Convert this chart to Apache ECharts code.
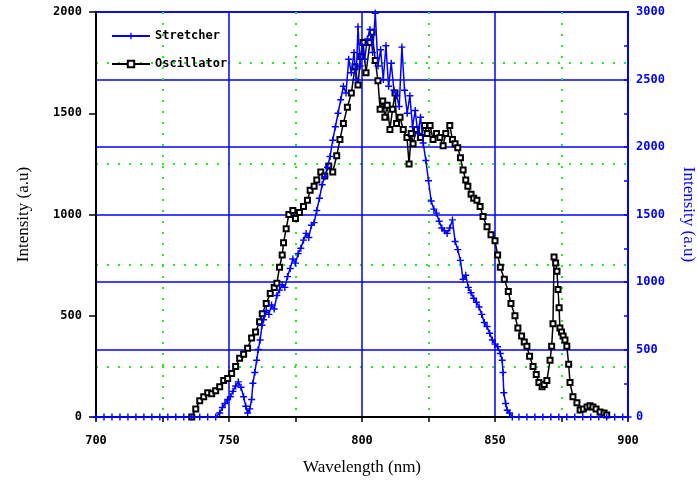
<!DOCTYPE html>
<html lang="en">
<head>
    <meta charset="UTF-8">
    <title>Stretcher / Oscillator</title>
</head>
<style>
    body {
        margin: 0;
        background: #fff;
    }
    #main {
        width: 697px;
        height: 482px;
    }
</style>
<body>
<div id="main"></div>
</body>
<script src="https://cdn.jsdelivr.net/npm/echarts@6/dist/echarts.min.js"></script>
<script>
    // x ticks / y ticks
    var xTicks = [700, 750, 800, 850, 900];
    var leftTicks = [0, 500, 1000, 1500, 2000];
    var rightTicks = [0, 500, 1000, 1500, 2000, 2500, 3000];

    // Stretcher (blue, right axis)
    var stretcherNm = [700, 703, 706, 709, 712, 715, 718, 721, 724, 727, 730, 733, 736, 739, 742, 745,
        746.5, 747.5, 748.5, 749.5, 750.5, 751.5, 752.5, 753.5, 754.5, 755.5, 756.3, 757, 757.8, 758.5, 759, 759.7,
        760.4, 761, 761.7, 762.4, 763, 764, 765, 766, 767, 768, 769, 770, 771, 772, 773, 774, 775, 776, 777, 778,
        779, 780, 781, 782, 783, 784, 785, 786, 787, 788, 789, 790, 791, 792, 793, 794, 795, 796, 797, 797.8, 798.5,
        799.3, 800, 801, 802, 803, 804, 805, 806, 807, 808, 809, 810, 811, 812, 813, 814, 815, 816, 817, 818, 819,
        820, 821, 822, 823, 824, 825, 826, 827, 828, 829, 830, 831, 832, 833, 834, 835, 836, 837, 838, 839, 840,
        841, 842, 843, 844, 845, 846, 847, 848, 849, 850, 851, 852, 852.7, 853, 853.3, 854, 854.6, 855.5, 856.5,
        859, 862, 865, 868, 871, 874, 877, 880, 883, 886, 889, 892, 895, 898, 900];
    var stretcherVal = [0, 0, 0, 0, 0, 0, 0, 0, 0, 0, 0, 0, 0, 0, 0, 0,
        30, 70, 100, 130, 150, 190, 230, 260, 220, 150, 80, 30, 60, 130, 250, 330,
        420, 500, 570, 680, 720, 790, 760, 830, 800, 900, 940, 980, 960, 1040, 1100, 1170, 1140, 1210, 1250, 1310,
        1360, 1330, 1420, 1440, 1530, 1620, 1720, 1780, 1850, 1930, 2050, 2150, 2250, 2350, 2450, 2400, 2650, 2550, 2700, 2500, 2890,
        2600, 2760, 2650, 2800, 2870, 2700, 2990, 2600, 2720, 2500, 2750, 2450, 2620, 2420, 2380, 2300, 2740, 2420, 2250, 2380, 2150,
        2270, 2100, 2220, 2030, 1900, 1750, 1600, 1540, 1510, 1450, 1400, 1380, 1360, 1400, 1460, 1300, 1240, 1160, 1020, 1050, 960,
        920, 880, 850, 815, 760, 700, 670, 620, 570, 540, 520, 470, 420, 330, 180, 100, 50, 30, 0,
        0, 0, 0, 0, 0, 0, 0, 0, 0, 0, 0, 0, 0, 0, 0];

    // Oscillator (black, left axis)
    var oscNm = [736, 737.5, 739, 740.5, 742, 743.5, 745, 746.5, 748, 749.5, 751, 752.5, 754, 755.5, 757, 758.5,
        760, 761.5, 762.5, 764, 765.5, 767, 768, 769, 770, 770.5, 771.5, 772.5, 774, 775, 776.5, 778, 779.5, 780.5,
        782, 783, 784.5, 786, 787.5, 789, 790.5, 791.7, 793, 794.5, 796, 797.4, 798.5, 799.5, 800.4, 801.5, 803,
        803.8, 805, 806, 806.8, 807.8, 808.6, 809.5, 810.5, 811.5, 812.4, 813, 814.3, 815.5, 816.9, 817.7, 818.5,
        819.2, 820.5, 822, 823.5, 824.5, 825.6, 826.7, 828, 829.3, 830.5, 831.5, 833, 834, 835, 836, 837, 838, 839,
        839.8, 841, 842, 843.2, 844.4, 845.5, 847, 848.5, 850, 851, 852, 853.5, 855, 856, 857.5, 858.6, 860, 861,
        862, 863, 864.3, 865.5, 866.5, 867.7, 868.5, 869.5, 870.7, 871.3, 871.8, 872.2, 872.8, 873.3, 873.7, 874.1,
        874.4, 875, 875.6, 876.3, 877, 877.7, 878.2, 879.3, 880.8, 882, 883.2, 884.6, 885.7, 886.8, 888, 889.5, 891, 892];
    var oscVal = [0, 40, 80, 100, 120, 115, 130, 150, 180, 190, 215, 250, 290, 310, 340, 390,
        420, 470, 510, 560, 610, 640, 660, 740, 800, 860, 930, 1000, 1020, 980, 1010, 1040, 1070, 1120,
        1140, 1170, 1210, 1190, 1240, 1210, 1290, 1370, 1450, 1530, 1600, 1730, 1640, 1780, 1850, 1700, 1850,
        1900, 1760, 1660, 1520, 1560, 1480, 1540, 1420, 1520, 1600, 1450, 1480, 1420, 1380, 1250, 1400,
        1350, 1420, 1380, 1440, 1400, 1440, 1370, 1400, 1380, 1340, 1400, 1440, 1370, 1350, 1330, 1280, 1220, 1170,
        1140, 1100, 1080, 1070, 1040, 990, 940, 900, 870, 800, 740, 680, 620, 560, 500, 440, 400, 370,
        350, 300, 250, 210, 170, 150, 160, 180, 280, 350, 460, 790, 760, 720, 630, 540,
        440, 420, 400, 380, 350, 260, 170, 100, 70, 35, 40, 50, 55, 50, 40, 25, 20, 10];

    function pairs(xs, ys) {
        var out = [];
        for (var i = 0; i < xs.length; i++) {
            out.push([xs[i], ys[i]]);
        }
        return out;
    }

    function plain(v) {
        return String(v);
    }

    var plusSymbol = 'path://M4,0h2v4h4v2h-4v4h-2v-4h-4v-2h4z';
    var labelFont = {
        fontFamily: 'DejaVu Sans Mono',
        fontWeight: 'bold',
        fontSize: 12,
        formatter: plain
    };
    var greenDots = {color: '#22ee22', type: [2, 9], width: 2};

    var myChart = echarts.init(document.getElementById('main'));
    var option = {
        animation: false,
        grid: {
            left: 96,
            right: 69,
            top: 12,
            bottom: 65,
            show: true,
            borderColor: '#444',
            borderWidth: 2,
            outerBoundsMode: 'none',
            containLabel: false
        },
        legend: {
            left: 106,
            top: 25,
            orient: 'vertical',
            itemWidth: 38,
            itemHeight: 8,
            itemGap: 16,
            textStyle: {
                fontFamily: 'DejaVu Sans Mono',
                fontWeight: 'bold',
                fontSize: 12,
                color: '#000'
            },
            data: ['Stretcher', 'Oscillator']
        },
        xAxis: {
            type: 'value',
            min: xTicks[0],
            max: xTicks[xTicks.length - 1],
            interval: 50,
            name: 'Wavelength (nm)',
            nameLocation: 'middle',
            nameGap: 42,
            nameTextStyle: {fontFamily: 'Liberation Serif', fontSize: 17, color: '#000'},
            axisLine: {lineStyle: {color: '#000', width: 2}},
            axisTick: {length: 5, lineStyle: {color: '#000', width: 1.5}},
            minorTick: {show: true, splitNumber: 2, length: 5, lineStyle: {color: '#000', width: 1.5}},
            axisLabel: Object.assign({color: '#000', margin: 18}, labelFont),
            splitLine: {show: true, lineStyle: {color: '#0000ff', width: 1.5}},
            minorSplitLine: {show: true, lineStyle: greenDots}
        },
        yAxis: [
            {
                type: 'value',
                position: 'left',
                min: leftTicks[0],
                max: leftTicks[leftTicks.length - 1],
                interval: 500,
                name: 'Intensity (a.u)',
                nameLocation: 'middle',
                nameGap: 64,
                nameTextStyle: {fontFamily: 'Liberation Serif', fontSize: 17, color: '#000'},
                axisLine: {show: true, lineStyle: {color: '#000', width: 2}},
                axisTick: {show: true, length: 7, lineStyle: {color: '#000', width: 1.5}},
                minorTick: {show: false, splitNumber: 2},
                axisLabel: Object.assign({color: '#000', margin: 14}, labelFont),
                splitLine: {show: false},
                minorSplitLine: {show: true, lineStyle: greenDots}
            },
            {
                type: 'value',
                position: 'right',
                min: rightTicks[0],
                max: rightTicks[rightTicks.length - 1],
                interval: 500,
                name: 'Intensity (a.u)',
                nameLocation: 'middle',
                nameGap: 52,
                nameRotate: -90,
                nameTextStyle: {fontFamily: 'Liberation Serif', fontSize: 17, color: '#0000ff'},
                axisLine: {show: true, lineStyle: {color: '#0000ff', width: 2}},
                axisTick: {show: true, inside: true, length: 4, lineStyle: {color: '#0000ff', width: 1.5}},
                minorTick: {show: true, splitNumber: 2, length: 4, lineStyle: {color: '#0000ff', width: 1.5}},
                axisLabel: Object.assign({color: '#0000ff', margin: 8}, labelFont),
                splitLine: {show: true, lineStyle: {color: '#0000ff', width: 1.5}}
            }
        ],
        series: [
            {
                name: 'Oscillator',
                type: 'line',
                yAxisIndex: 0,
                data: pairs(oscNm, oscVal),
                symbol: 'emptyRect',
                symbolSize: 5,
                showAllSymbol: true,
                color: '#000',
                itemStyle: {color: '#000', borderWidth: 1.5},
                lineStyle: {color: '#000', width: 1.5},
                z: 3
            },
            {
                name: 'Stretcher',
                type: 'line',
                yAxisIndex: 1,
                data: pairs(stretcherNm, stretcherVal),
                symbol: plusSymbol,
                symbolSize: 7,
                showAllSymbol: true,
                color: '#0000ff',
                itemStyle: {color: '#0000ff'},
                lineStyle: {color: '#0000ff', width: 1.5},
                z: 4
            }
        ]
    };
    myChart.setOption(option);
</script>
</html>
